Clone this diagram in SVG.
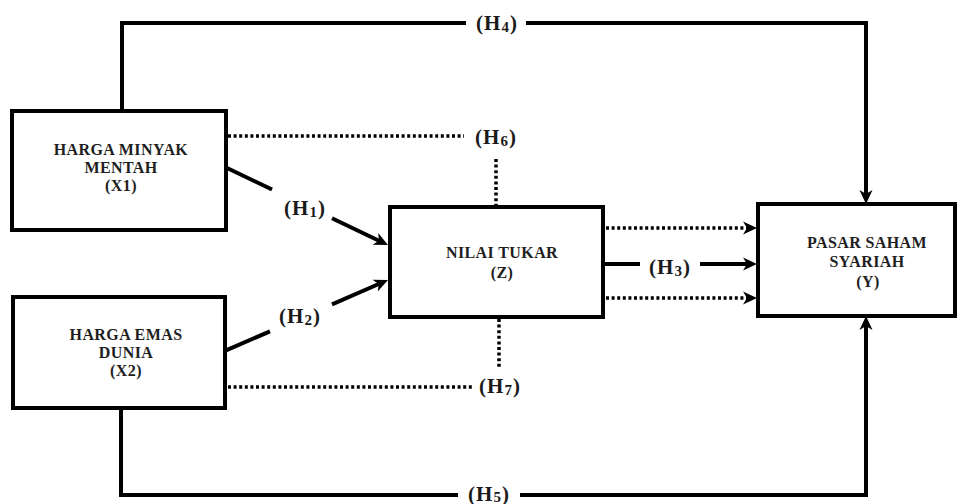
<svg xmlns="http://www.w3.org/2000/svg" width="961" height="504" viewBox="0 0 961 504">
  <style>
    .box { fill: #ffffff; stroke: #000000; stroke-width: 4; }
    .node-text { font-family: "Liberation Serif", "Times New Roman", serif; font-weight: bold; font-size: 16px; letter-spacing: 0.4px; fill: #1e1e1e; text-anchor: middle; }
    .lbl { font-family: "Liberation Serif", "Times New Roman", serif; font-weight: bold; font-size: 21px; letter-spacing: 1px; fill: #1a1a1a; text-anchor: middle; }
    .sub { font-size: 15px; }
    .line { fill: none; stroke: #000000; stroke-width: 4; }
    .dot { fill: none; stroke: #000000; stroke-width: 3.5; stroke-dasharray: 3 2.6; }
  </style>
  <defs>
    <marker id="head" markerUnits="userSpaceOnUse" markerWidth="16" markerHeight="16" refX="4" refY="8" orient="auto">
      <path d="M0,1.5 L14,8 L0,14.5 L4,8 z" fill="#000000"/>
    </marker>
  </defs>

  <rect width="961" height="504" fill="#ffffff"/>

  <!-- connectors -->
  <g id="connectors">
    <!-- H4: X1 over the top to Y -->
    <polyline class="line" points="122,111 122,23 466,23"/>
    <polyline class="line" points="526,23 866,23 866,194" marker-end="url(#head)"/>
    <!-- H5: X2 along the bottom to Y -->
    <polyline class="line" points="121,408 121,495 458,495"/>
    <polyline class="line" points="520,495 866,495 866,326" marker-end="url(#head)"/>
    <!-- H1: X1 to Z -->
    <line class="line" x1="226" y1="167.5" x2="272" y2="189.5"/>
    <line class="line" x1="332" y1="218.2" x2="379" y2="240.7" marker-end="url(#head)"/>
    <!-- H2: X2 to Z -->
    <line class="line" x1="226" y1="350.4" x2="270" y2="331.3"/>
    <line class="line" x1="332" y1="304.3" x2="378.8" y2="284" marker-end="url(#head)"/>
    <!-- H3: Z to Y -->
    <line class="line" x1="605" y1="264" x2="640" y2="264"/>
    <line class="line" x1="700" y1="264" x2="747" y2="264" marker-end="url(#head)"/>
    <!-- mediated paths into Y -->
    <line class="dot" x1="606" y1="228" x2="747" y2="228" marker-end="url(#head)"/>
    <line class="dot" x1="606" y1="298" x2="747" y2="298" marker-end="url(#head)"/>
    <!-- H6: X1 to Z (dotted) -->
    <line class="dot" x1="228" y1="136" x2="464" y2="136"/>
    <line class="dot" x1="496" y1="159" x2="496" y2="206"/>
    <!-- H7: X2 to Z (dotted) -->
    <line class="dot" x1="228" y1="387" x2="472" y2="387"/>
    <line class="dot" x1="499" y1="319" x2="499" y2="368"/>
  </g>

  <!-- path labels -->
  <g id="labels">
    <text class="lbl" x="497" y="30">(H<tspan class="sub" dy="2">4</tspan><tspan dy="-2">)</tspan></text>
    <text class="lbl" x="489" y="501">(H<tspan class="sub" dy="1">5</tspan><tspan dy="-1">)</tspan></text>
    <text class="lbl" x="305" y="215">(H<tspan class="sub" dy="2">1</tspan><tspan dy="-2">)</tspan></text>
    <text class="lbl" x="300" y="323">(H<tspan class="sub" dy="2">2</tspan><tspan dy="-2">)</tspan></text>
    <text class="lbl" x="670" y="274">(H<tspan class="sub" dy="2">3</tspan><tspan dy="-2">)</tspan></text>
    <text class="lbl" x="496" y="144">(H<tspan class="sub" dy="2">6</tspan><tspan dy="-2">)</tspan></text>
    <text class="lbl" x="500" y="393">(H<tspan class="sub" dy="2">7</tspan><tspan dy="-2">)</tspan></text>
  </g>

  <!-- nodes -->
  <g id="node-x1">
    <rect class="box" x="12" y="111" width="214" height="119"/>
    <text class="node-text" x="121" y="155">HARGA MINYAK</text>
    <text class="node-text" x="121" y="173">MENTAH</text>
    <text class="node-text" x="121" y="191">(X1)</text>
  </g>
  <g id="node-x2">
    <rect class="box" x="13" y="297" width="212" height="111"/>
    <text class="node-text" x="126" y="340">HARGA EMAS</text>
    <text class="node-text" x="126" y="358">DUNIA</text>
    <text class="node-text" x="126" y="376">(X2)</text>
  </g>
  <g id="node-z">
    <rect class="box" x="390" y="207" width="213" height="110"/>
    <text class="node-text" x="502" y="258">NILAI TUKAR</text>
    <text class="node-text" x="502" y="278">(Z)</text>
  </g>
  <g id="node-y">
    <rect class="box" x="758" y="204" width="197" height="112"/>
    <text class="node-text" x="867" y="248">PASAR SAHAM</text>
    <text class="node-text" x="867" y="267">SYARIAH</text>
    <text class="node-text" x="868" y="287">(Y)</text>
  </g>
</svg>
